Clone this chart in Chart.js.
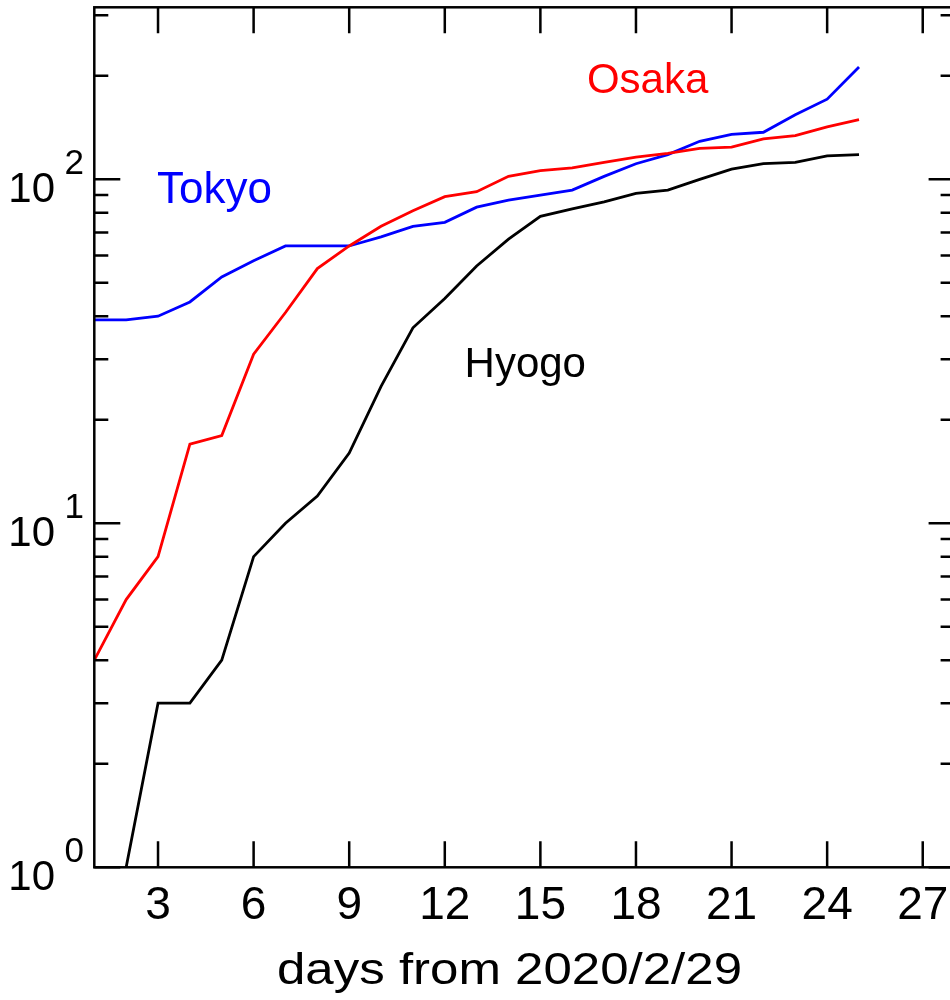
<!DOCTYPE html>
<html>
<head>
<meta charset="utf-8">
<script src="https://cdn.jsdelivr.net/npm/chart.js@4.4.1/dist/chart.umd.min.js"></script>
<style>
html,body{margin:0;padding:0;overflow:hidden;background:#fff;width:950px;height:1000px}
#wrap{position:absolute;left:0;top:0;width:960px;height:1000px}
canvas{display:block}
</style>
</head>
<body>
<div id="wrap"><canvas id="c" width="960" height="1000"></canvas></div>
<script>
// ---- data (cumulative confirmed cases, log scale) ----
const days  = [1,2,3,4,5,6,7,8,9,10,11,12,13,14,15,16,17,18,19,20,21,22,23,24,25];
const tokyo = [39,39,40,44,52,58,64,64,64,68,73,75,83,87,90,93,102,111,118,129,135,137,154,171,212];
const osaka = [4,6,8,17,18,31,41,55,64,73,81,89,92,102,106,108,112,116,119,123,124,131,134,142,149];
const hyogo = [null,1,3,3,4,8,10,12,16,25,37,45,56,67,78,82,86,91,93,100,107,111,112,117,118];
const seriesNames  = ['Tokyo','Osaka','Hyogo'];
const seriesColors = ['#0000ff','#ff0000','#000000'];
const xTicks  = [3,6,9,12,15,18,21,24,27];
const yMajor  = [1,10,100];
const yExp    = ['0','1','2'];
const yMinor  = [2,3,4,5,6,7,8,9,20,30,40,50,60,70,80,90,200,300];
const xTitle  = 'days from 2020/2/29';

const FONT = "'Liberation Sans', Arial, Helvetica, sans-serif";

const toPts = arr => days.map((d,i)=>({x:d, y:arr[i]}));

// label anchors in data coordinates (left edge, baseline)
const annot = [
  {text: seriesNames[0], color: seriesColors[0], x: 2.97, y: 85.3, size: 44},
  {text: seriesNames[1], color: seriesColors[1], x: 16.46, y: 178, size: 42},
  {text: seriesNames[2], color: seriesColors[2], x: 12.62, y: 26.6, size: 42}
];

// draw text horizontally stretched to a target width
function fitText(ctx, text, cx, baseline, size, width){
  ctx.font = size + 'px ' + FONT;
  const w = ctx.measureText(text).width;
  ctx.save();
  ctx.translate(cx, baseline);
  ctx.scale(width / w, 1);
  ctx.textAlign = 'center';
  ctx.fillText(text, 0, 0);
  ctx.restore();
}

const framePlugin = {
  id: 'frame',
  afterDatasetsDraw(chart){
    const {ctx, chartArea:a, scales:{x, y}} = chart;
    ctx.save();
    ctx.strokeStyle = '#000';
    ctx.lineWidth = 2.5;
    ctx.strokeRect(a.left, a.top, a.right - a.left, a.bottom - a.top);
    ctx.beginPath();
    xTicks.forEach(v=>{
      const px = x.getPixelForValue(v);
      ctx.moveTo(px, a.bottom); ctx.lineTo(px, a.bottom - 26);
      ctx.moveTo(px, a.top);    ctx.lineTo(px, a.top + 26);
    });
    const yt = (v, len)=>{
      const py = y.getPixelForValue(v);
      ctx.moveTo(a.left, py);  ctx.lineTo(a.left + len, py);
      ctx.moveTo(a.right, py); ctx.lineTo(a.right - len, py);
    };
    yMajor.forEach(v=>yt(v, 26));
    yMinor.forEach(v=>yt(v, 14));
    ctx.stroke();

    // y tick labels 10^n
    ctx.fillStyle = '#000';
    ctx.textBaseline = 'alphabetic';
    yMajor.forEach((v,i)=>{
      const py = y.getPixelForValue(v);
      ctx.font = '35px ' + FONT;
      ctx.textAlign = 'right';
      ctx.fillText(yExp[i], 84, py - 5);
      ctx.font = '42px ' + FONT;
      ctx.fillText('10', 55, py + 22.5);
    });

    // series annotations
    ctx.textAlign = 'left';
    annot.forEach(l=>{
      ctx.font = l.size + 'px ' + FONT;
      ctx.fillStyle = l.color;
      ctx.fillText(l.text, x.getPixelForValue(l.x), y.getPixelForValue(l.y));
    });

    // x axis title
    ctx.fillStyle = '#000';
    fitText(ctx, xTitle, 509.5, 984, 45, 465);
    ctx.restore();
  }
};

new Chart(document.getElementById('c'), {
  type: 'line',
  data: {
    datasets: [
      {label: seriesNames[2], data: toPts(hyogo), borderColor: seriesColors[2]},
      {label: seriesNames[1], data: toPts(osaka), borderColor: seriesColors[1]},
      {label: seriesNames[0], data: toPts(tokyo), borderColor: seriesColors[0]}
    ]
  },
  options: {
    responsive: false,
    animation: false,
    devicePixelRatio: 1,
    layout: {padding: {top: 7.3, right: 5.4, left: 0, bottom: 0}},
    elements: {
      line: {borderWidth: 2.8, tension: 0, fill: false},
      point: {radius: 0, hoverRadius: 0}
    },
    plugins: {legend: {display: false}, tooltip: {enabled: false}, title: {display: false}},
    scales: {
      x: {
        type: 'linear', min: 1, max: 28,
        grid: {display: false, drawTicks: false},
        border: {display: false},
        afterBuildTicks: s => { s.ticks = xTicks.map(v=>({value: v})); },
        afterFit: s => { s.height = 132.7; },
        ticks: {color: '#000', font: {family: FONT, size: 46}, padding: 11, maxRotation: 0, autoSkip: false}
      },
      y: {
        type: 'logarithmic', min: 1, max: 316.2278,
        grid: {display: false, drawTicks: false},
        border: {display: false},
        afterFit: s => { s.width = 94.3; },
        ticks: {display: false}
      }
    }
  },
  plugins: [framePlugin]
});
</script>
</body>
</html>
